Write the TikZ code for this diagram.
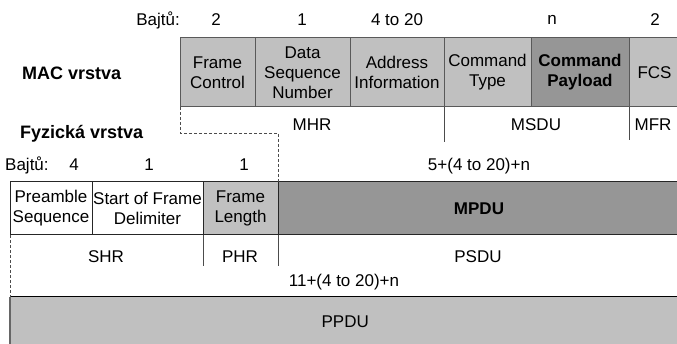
\documentclass[tikz,border=0pt]{standalone}
\usepackage{fontspec}
\setmainfont{Liberation Sans}
\usetikzlibrary{positioning}

\definecolor{fieldgray}{HTML}{C0C0C0}
\definecolor{fielddark}{HTML}{969696}

\begin{document}
\begin{tikzpicture}[x=1pt, y=-1pt,
    font=\fontsize{17}{20}\selectfont,
    field/.style={draw=black!65, line width=1pt, minimum height=69pt, inner sep=0pt, outer sep=0pt, align=center},
    phyfield/.style={field, draw=black!85, minimum height=53pt},
    light/.style={fill=fieldgray},
    dark/.style={fill=fielddark},
    sep/.style={draw=black!70, line width=1pt},
    tag/.style={inner sep=0pt},
    layer/.style={tag, font=\fontsize{18}{22}\selectfont\bfseries, anchor=west},
    jump/.style={densely dashed, draw=black!70, line width=0.8pt}
  ]
    \useasboundingbox (0,0) rectangle (677,344);
    \clip (0,0) rectangle (677,344);

    % MAC frame
    \node[layer] (mac) at (22,73) {MAC vrstva};
    \node[tag, anchor=east] (bmac) at (180,20) {Bajtů:};
    \node[tag] at (216,20) {2};
    \node[tag] at (302,20) {1};
    \node[tag] at (397,20) {4 to 20};
    \node[tag] at (552,20) {n};
    \node[tag] at (655,20) {2};

    \node[field, light, minimum width=75pt, anchor=north west] (fc) at (180,38) {Frame\\Control};
    \node[field, light, minimum width=95pt, right=0pt of fc] (dsn) {Data\\Sequence\\Number};
    \node[field, light, minimum width=94pt, right=0pt of dsn] (addr) {Address\\Information};
    \node[field, light, minimum width=87pt, right=0pt of addr] (ctype) {Command\\Type};
    \node[field, dark, minimum width=98pt, right=0pt of ctype, font=\fontsize{17}{20}\selectfont\bfseries] (cpay) {Command\\Payload};
    \node[field, light, minimum width=51pt, right=0pt of cpay] (fcs) {FCS};

    \draw[sep] (addr.south east) -- ++(0,35);
    \draw[sep] (cpay.south east) -- ++(0,33);
    \node[tag] (mhr) at (312,125) {MHR};
    \node[tag] (msdu) at (536,125) {MSDU};
    \node[tag] (mfr) at (653,125) {MFR};

    % PHY frame
    \node[layer] (phy) at (20,134) {Fyzická vrstva};
    \node[tag, anchor=west] (bphy) at (5,165) {Bajtů:};
    \node[tag] at (74,165) {4};
    \node[tag] at (149,165) {1};
    \node[tag] at (244,165) {1};
    \node[tag] at (479,166) {5+(4 to 20)+n};

    \node[phyfield, minimum width=82pt, anchor=north west] (pre) at (10,182) {Preamble\\Sequence};
    \node[phyfield, minimum width=111pt, right=0pt of pre] (sfd) {Start of Frame\\Delimiter};
    \node[phyfield, light, minimum width=75pt, right=0pt of sfd] (flen) {Frame\\Length};
    \node[phyfield, dark, minimum width=402pt, right=0pt of flen, font=\fontsize{17}{20}\selectfont\bfseries] (mpdu) {MPDU};

    \draw[sep] (sfd.south east) -- ++(0,31);
    \draw[sep] (flen.south east) -- ++(0,31);
    \node[tag] (shr) at (106,257) {SHR};
    \node[tag] (phr) at (240,257) {PHR};
    \node[tag] (psdu) at (478,257) {PSDU};
    \node[tag] (len) at (344,282) {11+(4 to 20)+n};

    \node[tag, fill=fieldgray, minimum width=670pt, minimum height=50pt, anchor=north west] (ppdu) at (10,297) {PPDU};
    \draw[black, line width=1pt] (ppdu.north west) -- (ppdu.north east);
    \draw[black!60, line width=1.5pt] (ppdu.north west) -- (ppdu.south west);

    % MSDU sits in the PSDU
    \draw[jump] (fc.south west) -- ++(0,26) -| (mpdu.north west);
    \draw[jump] (pre.south west) -- (ppdu.north west);
\end{tikzpicture}
\end{document}
